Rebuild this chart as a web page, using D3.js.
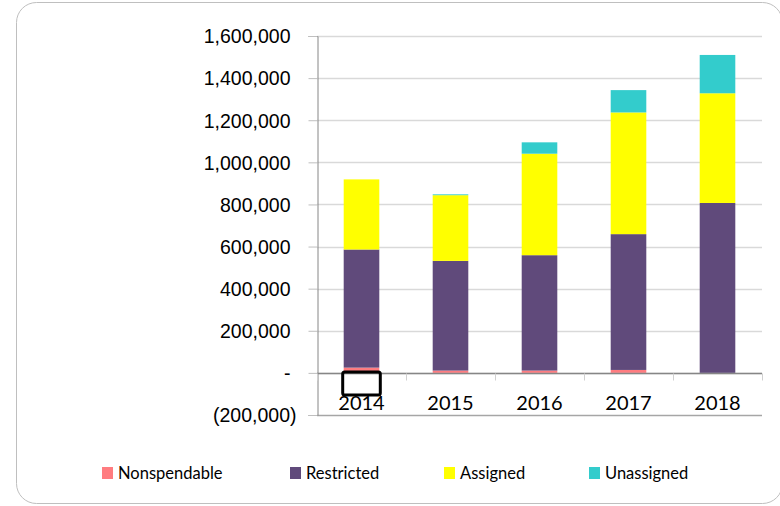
<!DOCTYPE html>
<html>
<head>
<meta charset="utf-8">
<script src="https://cdn.jsdelivr.net/npm/d3@7"></script>
<style>
  body { margin: 0; background: #fff; }
  svg { display: block; font-family: Lato, "Noto Sans", sans-serif; }
</style>
</head>
<body>
<div id="chart"></div>
<script>
// Fund balance by year
const years = ['2014', '2015', '2016', '2017', '2018'];
const nonspendable = [25000, 11000, 11000, 14000, 0];
const restricted = [561000, 521000, 548000, 645000, 807000];
const assigned = [333000, 312000, 482000, 578000, 521000];
const unassigned = [0, 4000, 54000, 106000, 182000];

const seriesNames = ['Nonspendable', 'Restricted', 'Assigned', 'Unassigned'];
const seriesColors = ['#ff7c80', '#604a7b', '#ffff00', '#33cccc'];
const yTicks = [-200000, 0, 200000, 400000, 600000, 800000, 1000000, 1200000, 1400000, 1600000];

const W = 780, H = 506;

// build rows for d3.stack
const rows = years.map((y, i) => ({
    year: y,
    Nonspendable: nonspendable[i],
    Restricted: restricted[i],
    Assigned: assigned[i],
    Unassigned: unassigned[i]
}));

const svg = d3.select('#chart')
    .append('svg')
    .attr('width', W)
    .attr('height', H);

// chart frame (rounded, runs off the right edge)
svg.append('rect')
    .attr('x', 16.5).attr('y', 2.5)
    .attr('width', 766).attr('height', 501)
    .attr('rx', 20).attr('ry', 20)
    .attr('fill', '#fff')
    .attr('stroke', '#bfbfbf');

const x = d3.scaleBand()
    .domain(years)
    .range([317, 762])
    .paddingInner(0.6)
    .paddingOuter(0.3);

const y = d3.scaleLinear()
    .domain([-200000, 1600000])
    .range([415, 36]);

function fmt(v) {
    if (v === 0) return '-';
    if (v < 0) return '(' + d3.format(',')(-v) + ')';
    return d3.format(',')(v);
}

// gridlines
svg.append('g')
    .selectAll('line')
    .data(yTicks)
    .join('line')
    .attr('x1', 317).attr('x2', 762)
    .attr('y1', d => Math.round(y(d)) + 0.5)
    .attr('y2', d => Math.round(y(d)) + 0.5)
    .attr('stroke', d => d === -200000 ? '#a6a6a6' : '#d9d9d9')
    .attr('stroke-width', 1.3);

// y axis
const yAxis = svg.append('g')
    .attr('transform', 'translate(317.5,0)')
    .call(d3.axisLeft(y).tickValues(yTicks).tickSize(9).tickPadding(18).tickFormat(fmt));
yAxis.select('.domain').attr('stroke', '#868686');
yAxis.selectAll('.tick line').attr('stroke', '#bfbfbf');
yAxis.selectAll('.tick text')
    .attr('font-size', 19.5)
    .attr('fill', '#000')
    .attr('dy', '0.35em')
    .attr('dx', d => d < 0 ? 6 : 0);

// stacked bars
const stack = d3.stack().keys(seriesNames);
const layers = stack(rows);

svg.append('g')
    .selectAll('g')
    .data(layers)
    .join('g')
    .attr('fill', (d, i) => seriesColors[i])
    .selectAll('rect')
    .data(d => d)
    .join('rect')
    .attr('x', d => x(d.data.year))
    .attr('width', x.bandwidth())
    .attr('y', d => y(d[1]))
    .attr('height', d => Math.max(0, y(d[0]) - y(d[1])));

// x axis on zero line
const xAxisG = svg.append('g')
    .attr('transform', `translate(0,${Math.round(y(0)) + 0.5})`);
xAxisG.append('line')
    .attr('x1', 317).attr('x2', 762)
    .attr('stroke', '#868686')
    .attr('stroke-width', 1.3);
const bounds = years.map(d => x(d) - x.step() * x.paddingInner() / 2)
    .concat([762]);
xAxisG.selectAll('.cat-tick')
    .data(bounds)
    .join('line')
    .attr('class', 'cat-tick')
    .attr('x1', d => Math.round(d) + 0.5).attr('x2', d => Math.round(d) + 0.5)
    .attr('y1', 0).attr('y2', 7)
    .attr('stroke', '#d0d0d0');
xAxisG.selectAll('.cat-label')
    .data(years)
    .join('text')
    .attr('class', 'cat-label')
    .attr('x', d => x(d) + x.bandwidth() / 2)
    .attr('y', 36)
    .attr('text-anchor', 'middle')
    .attr('font-size', 20)
    .attr('fill', '#000')
    .text(d => d);

// selection box under the first bar
svg.append('rect')
    .attr('x', x('2014') - 1)
    .attr('y', 372)
    .attr('width', x.bandwidth() + 2)
    .attr('height', 23)
    .attr('rx', 2)
    .attr('fill', 'none')
    .attr('stroke', '#000')
    .attr('stroke-width', 3);

// legend
const legendX = [102, 290, 444, 589];
const legend = svg.append('g');
seriesNames.forEach((name, i) => {
    legend.append('rect')
        .attr('x', legendX[i]).attr('y', 467)
        .attr('width', 11).attr('height', 12)
        .attr('fill', seriesColors[i]);
    legend.append('text')
        .attr('x', legendX[i] + 16).attr('y', 479)
        .attr('font-size', 16.5)
        .attr('fill', '#000')
        .text(name);
});
</script>
</body>
</html>
